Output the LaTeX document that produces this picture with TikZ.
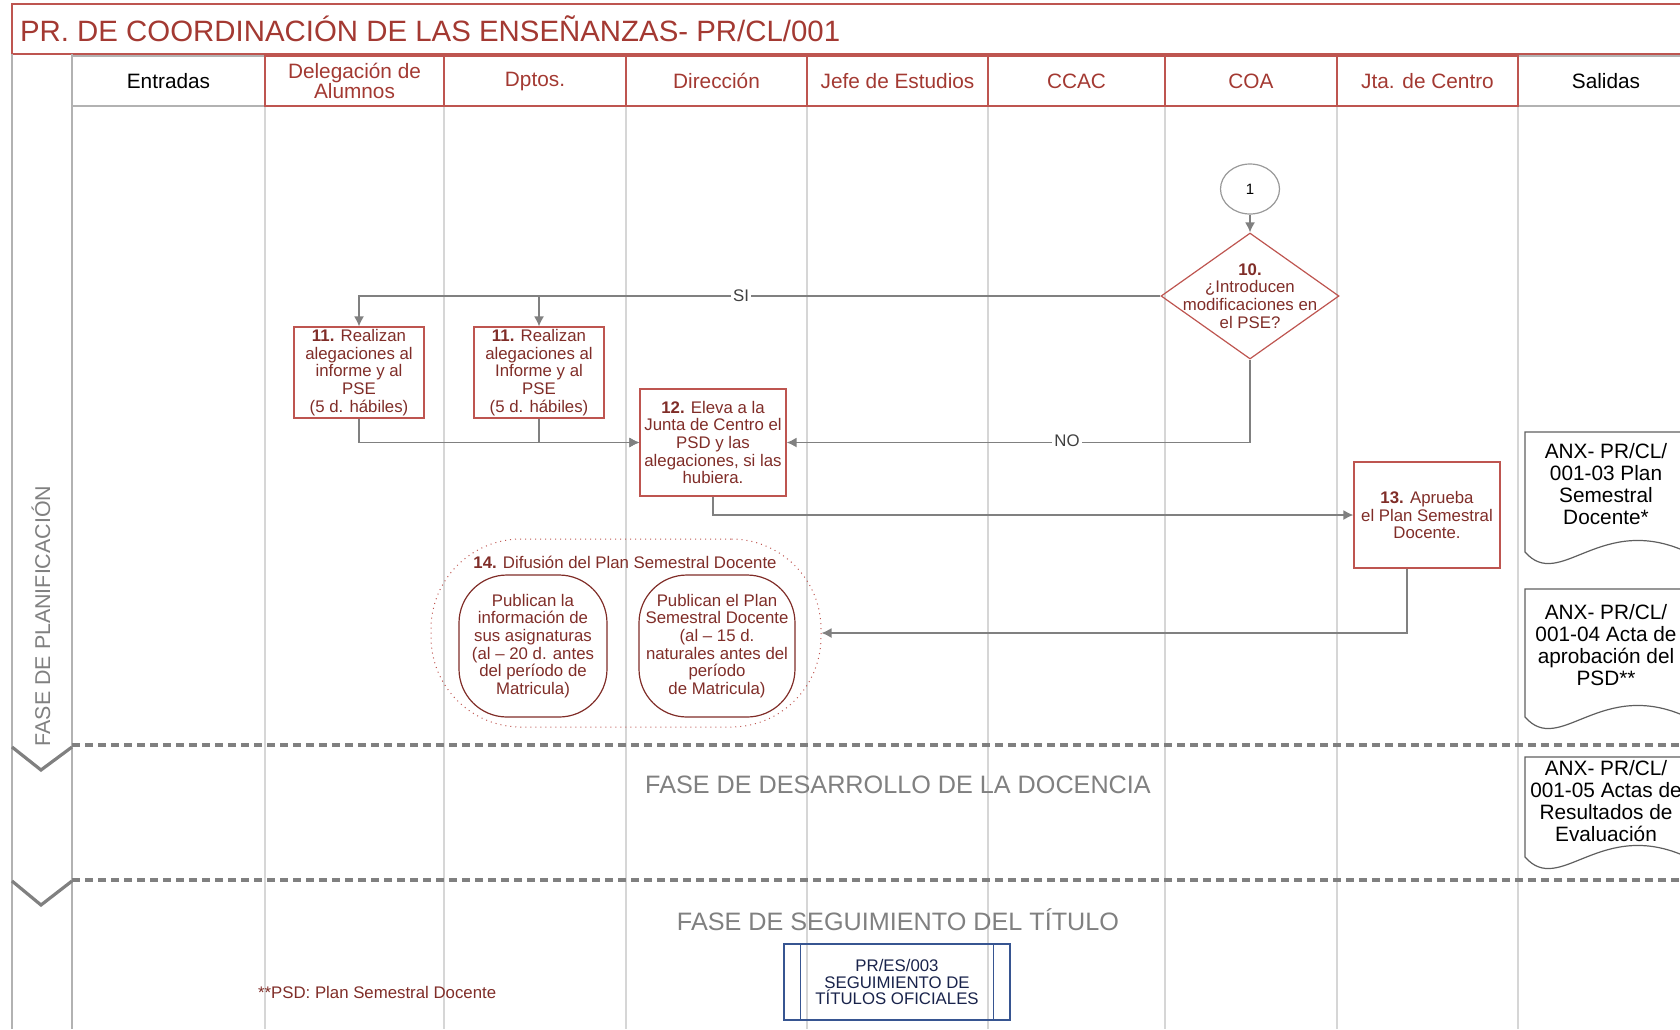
\documentclass[tikz,border=0pt]{standalone}
\usepackage{fontspec}
\setmainfont{Liberation Sans}
\usepackage{tikz}
\usetikzlibrary{positioning,calc}
\usetikzlibrary{shapes.geometric,arrows.meta}

\definecolor{titlered}{RGB}{163,57,50}
\definecolor{boxred}{RGB}{190,85,80}
\definecolor{textred}{RGB}{128,45,40}
\definecolor{lanegray}{RGB}{214,214,214}
\definecolor{stripgray}{RGB}{178,178,178}
\definecolor{phasegray}{RGB}{128,128,128}
\definecolor{docgray}{RGB}{95,95,95}
\definecolor{subblue}{RGB}{55,85,145}
\definecolor{subnavy}{RGB}{25,35,75}

\begin{document}
\begin{tikzpicture}[x = 0.5pt, y = -0.5pt,
  lane/.style = {draw = lanegray, line width = 0.8pt},
  headcell/.style = {draw = boxred, line width = 0.6pt, text = titlered, minimum height = 25pt, inner sep = 0pt, align = center, font = \fontsize{10.4}{10.4}\selectfont},
  headgray/.style = {headcell, draw = stripgray, text = black},
  stepbox/.style = {draw = boxred, line width = 0.6pt, text = textred, inner sep = 0pt, align = center, font = \fontsize{8.4}{8.8}\selectfont},
  boxtext/.style = {text = textred, align = center, font = \fontsize{8.4}{8.8}\selectfont},
  conn/.style = {draw = phasegray, line width = 0.75pt, -{Latex[length = 5pt, width = 5pt]}},
  flowlabel/.style = {fill = white, inner sep = 1pt, text = black!75, font = \fontsize{8.4}{8.8}\selectfont},
  doctext/.style = {align = center, font = \fontsize{10.4}{10.9}\selectfont},
  phasetext/.style = {text = phasegray, font = \fontsize{12.6}{12.6}\selectfont},
  phaseline/.style = {draw = phasegray, line width = 1.8pt, dash pattern = on 4pt off 2.5pt},
  chevron/.style = {draw = phasegray, line width = 1.6pt}
]

\useasboundingbox (0,0) rectangle (1680,1029);

% title
\draw[boxred, line width = 0.8pt] (1680,4) -- (12,4) -- (12,54) -- (1680,54);
\node[anchor = west, text = titlered, font = \fontsize{14.7}{14.7}\selectfont] (title) at (13,29) {PR. DE COORDINACIÓN DE LAS ENSEÑANZAS- PR/CL/001};

% lanes
\draw[stripgray, line width = 0.8pt] (12,54) -- (12,1029);
\draw[stripgray, line width = 0.8pt] (72,54) -- (72,1029);

\draw[lane] (265,106) -- (265,1029);
\draw[lane] (444,106) -- (444,1029);
\draw[lane] (626,106) -- (626,1029);
\draw[lane] (807,106) -- (807,1029);
\draw[lane] (988,106) -- (988,1029);
\draw[lane] (1165,106) -- (1165,1029);
\draw[lane] (1337,106) -- (1337,1029);
\draw[lane] (1518,106) -- (1518,1029);

% header
\node[headgray, minimum width = 96.5pt] (hent) at (168.5,81) {Entradas};

\begin{scope}
\clip (0,0) rectangle (1680,1029);
\node[headgray, minimum width = 88pt] (hsal) at (1606,81) {Salidas};
\end{scope}

\node[headcell, minimum width = 89.5pt] (hdel) at (354.5,81) {Delegación de\\Alumnos};
\node[headcell, minimum width = 91pt] (hdpt) at (535,81) {Dptos.};
\node[headcell, minimum width = 90.5pt] (hdir) at (716.5,81) {Dirección};
\node[headcell, minimum width = 90.5pt] (hjef) at (897.5,81) {Jefe de Estudios};
\node[headcell, minimum width = 88.5pt] (hccac) at (1076.5,81) {CCAC};
\node[headcell, minimum width = 86pt] (hcoa) at (1251,81) {COA};
\node[headcell, minimum width = 90.5pt] (hjta) at (1427.5,81) {Jta. de Centro};

%%%%%%%%%%%%%%%%%%%%%%%%%%%%%%%%

% phases
\node[phasetext, rotate = 90, font = \fontsize{10.7}{10.7}\selectfont] (fplan) at (41,616) {FASE DE PLANIFICACIÓN};

\draw[phaseline] (72,745) -- (1680,745);
\draw[phaseline] (72,880) -- (1680,880);

\draw[chevron] (12,747) -- (41,770) -- (72,747);
\draw[chevron] (12,881) -- (41,905) -- (72,881);

\node[phasetext] (fdes) at (898,785) {FASE DE DESARROLLO DE LA DOCENCIA};
\node[phasetext] (fseg) at (898,920) {FASE DE SEGUIMIENTO DEL TÍTULO};

%%%%%%%%%%%%%%%%%%%%%%%%%%%%%%%%

% steps
\node[ellipse, draw = phasegray!80, line width = 0.6pt, minimum width = 29.5pt, minimum height = 25pt, inner sep = 0pt, font = \fontsize{7.5}{7.5}\selectfont] (c1) at (1250,189) {1};

\node[diamond, draw = boxred, line width = 0.6pt, minimum width = 89pt, minimum height = 63pt, inner sep = 0pt] (d10) at (1250,296) {};
\node[boxtext] (d10txt) at (1250,296) {\textbf{10.}\\¿Introducen\\modificaciones en\\el PSE?};

\node[stepbox, minimum width = 65pt, minimum height = 45.5pt] (b11a) at (359,372.5) {\textbf{11.} Realizan\\alegaciones al\\informe y al\\PSE\\(5 d. hábiles)};
\node[stepbox, minimum width = 65pt, minimum height = 45.5pt] (b11b) at (539,372.5) {\textbf{11.} Realizan\\alegaciones al\\Informe y al\\PSE\\(5 d. hábiles)};

\node[stepbox, minimum width = 73pt, minimum height = 53.5pt] (b12) at (713,442.5) {\textbf{12.} Eleva a la\\Junta de Centro el\\PSD y las\\alegaciones, si las\\hubiera.};

\node[stepbox, minimum width = 73pt, minimum height = 53pt] (b13) at (1427,515) {\textbf{13.} Aprueba\\el Plan Semestral\\Docente.};

\node[draw = boxred, dotted, line width = 0.5pt, rounded corners = 45pt, minimum width = 195pt, minimum height = 94pt, inner sep = 0pt] (g14) at (626,633) {};
\node[boxtext] (g14t) at (625,562) {\textbf{14.} Difusión del Plan Semestral Docente};
\node[stepbox, draw = textred, rounded corners = 24pt, minimum width = 74pt, minimum height = 71pt] (p14a) at (533,646) {Publican la\\información de\\sus asignaturas\\(al – 20 d. antes\\del período de\\Matricula)};
\node[stepbox, draw = textred, rounded corners = 24pt, minimum width = 78pt, minimum height = 71pt] (p14b) at (717,646) {Publican el Plan\\Semestral Docente\\(al – 15 d.\\naturales antes del\\período\\de Matricula)};

% connectors
\draw[conn] (c1.south) -- (d10.north);
\draw[conn] (d10.west) -| (b11a.north);
\draw[conn] (d10.west) -| (b11b.north);
\node[flowlabel] (si) at (741,296) {SI};

\draw[conn] (d10.south) |- (b12.east);
\node[flowlabel] (no) at (1067,441) {NO};

\draw[conn] (b11a.south) |- (b12.west);
\draw[conn] (b11b.south) |- (b12.west);
\draw[conn] (b12.south) |- (b13.west);
\draw[conn] ([xshift = -10pt]b13.south) |- (g14.east);

%%%%%%%%%%%%%%%%%%%%%%%%%%%%%%%%

% outputs
\begin{scope}
\clip (0,0) rectangle (1680,1029);

\draw[docgray, line width = 0.6pt] (1690,432) -- (1525,432) -- (1525,552) .. controls (1560,592) and (1600,512) .. (1687,552);
\node[doctext] (doc1) at (1606,484) {ANX- PR/CL/\\001-03 Plan\\Semestral\\Docente*};

\draw[docgray, line width = 0.6pt] (1690,589) -- (1525,589) -- (1525,717) .. controls (1560,757) and (1600,677) .. (1687,717);
\node[doctext] (doc2) at (1606,645) {ANX- PR/CL/\\001-04 Acta de\\aprobación del\\PSD**};

\draw[docgray, line width = 0.6pt] (1690,757) -- (1525,757) -- (1525,857) .. controls (1560,897) and (1600,817) .. (1687,857);
\node[doctext] (doc3) at (1606,801) {ANX- PR/CL/\\001-05 Actas de\\Resultados de\\Evaluación};

\end{scope}

%%%%%%%%%%%%%%%%%%%%%%%%%%%%%%%%

% follow-up
\node[draw = subblue, line width = 0.6pt, minimum width = 113pt, minimum height = 38pt, inner sep = 0pt, text = subnavy, align = center, font = \fontsize{8.4}{8.4}\selectfont] (sub) at (897,982) {PR/ES/003\\SEGUIMIENTO DE\\TÍTULOS OFICIALES};
\draw[subblue, line width = 0.6pt] ([xshift = 8.5pt]sub.north west) -- ([xshift = 8.5pt]sub.south west);
\draw[subblue, line width = 0.6pt] ([xshift = -8.5pt]sub.north east) -- ([xshift = -8.5pt]sub.south east);

\node[boxtext, anchor = west] (fnote) at (251,992) {**PSD: Plan Semestral Docente};

\end{tikzpicture}
\end{document}
